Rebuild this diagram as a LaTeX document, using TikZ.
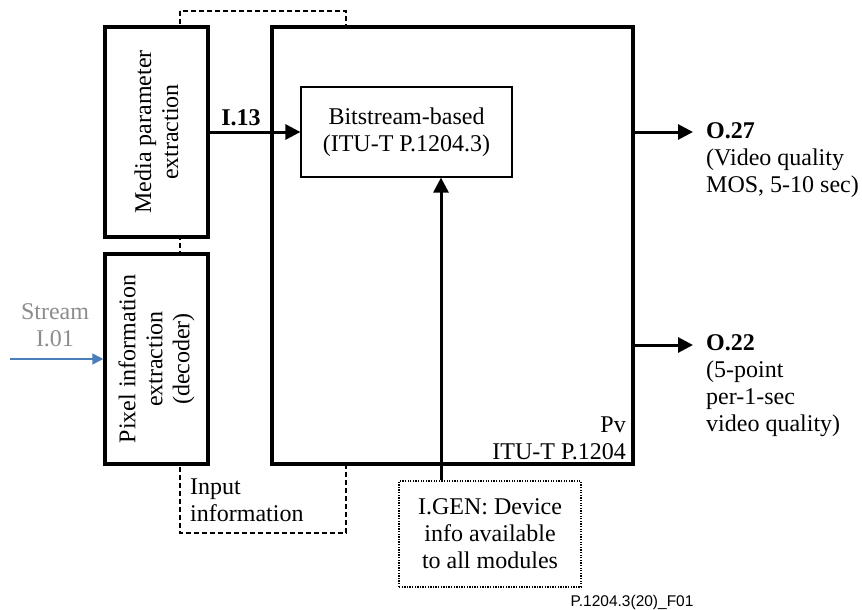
\documentclass[tikz,border=0pt]{standalone}
\usepackage{fontspec}
\setmainfont{Liberation Serif}
\newfontfamily\footfont{Liberation Sans}
\usetikzlibrary{arrows.meta}
\definecolor{streamblue}{RGB}{74,126,187}
\definecolor{streamgray}{RGB}{140,140,140}
\begin{document}
\begin{tikzpicture}[x=1pt,y=-1pt,
  every node/.style={inner sep=0pt, font=\fontsize{24}{27}\selectfont},
  heavybox/.style={draw, line width=3.5pt, fill=white},
  thinbox/.style={draw, line width=1.2pt, fill=white},
  arr/.style={line width=3pt, -{Triangle[length=15pt,width=15pt]}},
  bluearr/.style={draw=streamblue, line width=1.5pt, -{Triangle[length=11pt,width=11pt]}},
  dashline/.style={line width=1.2pt, dash pattern=on 5pt off 3pt},
  dotline/.style={line width=1.2pt, dash pattern=on 1.3pt off 1.3pt},
]
\useasboundingbox (0,0) rectangle (862,610);
% dashed input-information frame
\draw[dashline] (180,11) rectangle (346,533);
% boxes
\node[heavybox, minimum width=103pt, minimum height=210pt] (media) at (156.5,132) {};
\node[rotate=90, align=center] at (media.center) {Media parameter\\extraction};
\node[heavybox, minimum width=103pt, minimum height=210pt] (pix) at (156.5,359) {};
\node[rotate=90, align=center] at (pix.center) {Pixel information\\extraction\\(decoder)};
\node[heavybox, minimum width=361pt, minimum height=437pt] (main) at (452.5,245.5) {};
\node[thinbox, minimum width=211pt, minimum height=90pt, align=center] (bit) at (406.5,132) {Bitstream-based\\(ITU-T P.1204.3)};
\node[draw, dotline, fill=white, minimum width=182pt, minimum height=106pt, align=center] (igen) at (490,534) {I.GEN: Device\\info available\\to all modules};
% labels
\node[anchor=east, align=right] (pv) at (626,438.5) {Pv\\ITU-T P.1204};
\node[font=\fontsize{24}{27}\selectfont\bfseries] (i13) at (241,118) {I.13};
\node[anchor=west, align=left] (inp) at (190,500) {Input\\information};
\node[align=center, text=streamgray] (stream) at (55,325) {Stream\\I.01};
\node[anchor=west, align=left] (o27) at (706,160) {\textbf{O.27}\\(Video quality\\MOS, 5-10 sec)};
\node[anchor=west, align=left] (o22) at (706,386) {\textbf{O.22}\\(5-point\\per-1-sec\\video quality)};
\node[font=\footfont\fontsize{15.5}{18}\selectfont] (fig) at (632,602) {P.1204.3(20)\_F01};
% connectors
\coordinate (g) at (441,0);
\coordinate (s) at (10,0);
\coordinate (e27) at (693,132);
\coordinate (e22) at (693,345);
\draw[arr] (media.east) -- (bit.west);
\draw[arr] (igen.north -| g) -- (bit.south -| g);
\draw[arr] (main.east |- e27) -- (e27);
\draw[arr] (main.east |- e22) -- (e22);
\draw[bluearr] (pix.west -| s) -- (pix.west);
\end{tikzpicture}
\end{document}
